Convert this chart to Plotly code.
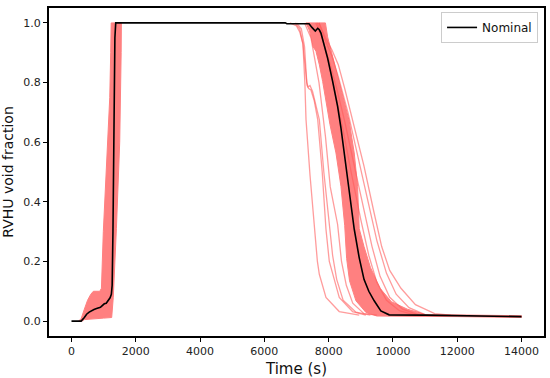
import plotly.graph_objects as go

# ---- Nominal run ----
nominal_t = [0, 300, 400, 470, 550, 620, 700, 780, 850, 900, 940, 980, 1020, 1080, 1140, 1200, 1240, 1265,
             1290, 1320, 1350, 1376, 6650, 6700, 7390, 7480, 7585, 7660, 7710, 7761, 7865, 7968, 8124, 8279,
             8380, 8485, 8641, 8796, 8950, 9100, 9250, 9417, 9624, 9883, 11000, 12500, 14000]
nominal_y = [0, 0, 0.012, 0.023, 0.03, 0.035, 0.039, 0.042, 0.044, 0.046, 0.05, 0.056, 0.058, 0.06, 0.068, 0.078,
             0.09, 0.12, 0.3, 0.7, 0.95, 1.0, 1.0, 0.997, 0.997, 0.985, 0.973, 0.982, 0.977, 0.966, 0.926, 0.882,
             0.804, 0.72, 0.65, 0.564, 0.452, 0.308, 0.213, 0.14, 0.1, 0.068, 0.034, 0.021, 0.02, 0.018, 0.015]

# ---- Ensemble envelope: rise phase (closed outline) ----
rise_band_t = [220, 300, 400, 500, 600, 680, 880, 931, 990, 1060, 1130, 1190, 1220, 1235,
               1552, 1545, 1500, 1440, 1397, 1300, 1250, 1000, 600, 400, 330, 220]
rise_band_y = [0, 0.008, 0.04, 0.07, 0.09, 0.1, 0.1, 0.11, 0.3, 0.45, 0.6, 0.75, 0.9, 1.0,
               1.0, 0.9, 0.6, 0.4, 0.31, 0.08, 0.012, 0.01, 0.008, 0.005, 0, 0]

# ---- Ensemble envelope: drain phase (closed outline) ----
drain_band_t = [7296, 7400, 7451, 7482, 7520, 7606, 7710, 7813, 7917, 8040, 8227, 8383, 8500, 8560, 8650,
                8850, 9160, 9500, 12000, 14000,
                14000, 12000, 11000, 10450, 9950, 9600, 9300, 9100, 8951, 8900, 8796, 8640, 8330, 8124,
                7968, 7900, 7296]
drain_band_y = [1.0, 0.975, 0.953, 0.935, 0.92, 0.905, 0.86, 0.804, 0.737, 0.66, 0.564, 0.452, 0.32, 0.21,
                0.135, 0.068, 0.029, 0.017, 0.015, 0.012,
                0.018, 0.02, 0.022, 0.04, 0.065, 0.11, 0.18, 0.25, 0.31, 0.452, 0.564, 0.67, 0.804, 0.893,
                0.953, 1.0, 1.0]

# ---- Individual runs draining early ----
early_1_t = [6800, 7000, 7100, 7200, 7260, 7296, 7420, 7553, 7650, 7710, 7917, 8330, 8951]
early_1_y = [1.0, 0.99, 0.97, 0.93, 0.8, 0.676, 0.49, 0.308, 0.2, 0.157, 0.079, 0.032, 0.02]
early_2_t = [6950, 7100, 7200, 7280, 7330, 7380, 7450, 7550, 7660, 7800, 7917, 8020, 8124, 8330, 8744, 9158]
early_2_y = [1.0, 0.98, 0.93, 0.85, 0.79, 0.78, 0.775, 0.74, 0.676, 0.5, 0.308, 0.2, 0.157, 0.079, 0.032, 0.02]
early_3_t = [7000, 7150, 7250, 7320, 7360, 7420, 7500, 7600, 7710, 7850, 8000, 8124, 8250, 8450, 8850, 9300]
early_3_y = [1.0, 0.98, 0.92, 0.8, 0.785, 0.79, 0.77, 0.72, 0.676, 0.5, 0.35, 0.22, 0.14, 0.07, 0.03, 0.02]
early_4_t = [7250, 7450, 7700, 7900, 8050, 8279, 8400, 8550, 8750, 9100, 9500]
early_4_y = [1.0, 0.95, 0.8, 0.62, 0.45, 0.324, 0.2, 0.12, 0.06, 0.025, 0.02]

# ---- Individual runs draining late ----
late_1_t = [7700, 7900, 8100, 8300, 8500, 8800, 9100, 9400, 9650, 9900, 10250, 10700, 11300, 11800]
late_1_y = [1.0, 0.95, 0.91, 0.86, 0.78, 0.65, 0.52, 0.37, 0.25, 0.17, 0.11, 0.055, 0.025, 0.02]
late_2_t = [7700, 7900, 8100, 8300, 8600, 8900, 9200, 9500, 9800, 10100, 10500, 11000]
late_2_y = [1.0, 0.94, 0.89, 0.82, 0.7, 0.56, 0.41, 0.27, 0.16, 0.09, 0.045, 0.022]
late_3_t = [7650, 7850, 8050, 8250, 8500, 8800, 9100, 9350, 9600, 9900, 10300, 10800]
late_3_y = [1.0, 0.93, 0.86, 0.78, 0.67, 0.52, 0.37, 0.25, 0.15, 0.08, 0.04, 0.021]
late_4_t = [7600, 7800, 8000, 8200, 8450, 8700, 9000, 9250, 9500, 9800, 10200, 10700]
late_4_y = [1.0, 0.95, 0.87, 0.77, 0.64, 0.5, 0.34, 0.22, 0.13, 0.07, 0.035, 0.02]

x_ticks = [0, 2000, 4000, 6000, 8000, 10000, 12000, 14000]
y_ticks = [0.0, 0.2, 0.4, 0.6, 0.8, 1.0]

band_color = "rgb(255,128,128)"
line_color = "rgba(255,90,90,0.6)"

fig = go.Figure()
for bt, by in [(rise_band_t, rise_band_y), (drain_band_t, drain_band_y)]:
    fig.add_trace(go.Scatter(x=bt, y=by, mode="lines", fill="toself", fillcolor=band_color,
                             line=dict(color=band_color, width=1), showlegend=False, hoverinfo="skip"))

runs = [(early_1_t, early_1_y), (early_2_t, early_2_y), (early_3_t, early_3_y), (early_4_t, early_4_y),
        (late_1_t, late_1_y), (late_2_t, late_2_y), (late_3_t, late_3_y), (late_4_t, late_4_y)]
for rt, ry in runs:
    fig.add_trace(go.Scatter(x=rt, y=ry, mode="lines", line=dict(color=line_color, width=1.3),
                             showlegend=False))

fig.add_trace(go.Scatter(x=nominal_t, y=nominal_y, mode="lines", name="Nominal",
                         line=dict(color="black", width=1.6)))

axis_common = dict(showline=True, linecolor="black", linewidth=2, mirror=True, ticks="outside",
                   ticklen=4, tickwidth=1, tickcolor="black", showgrid=False, zeroline=False,
                   automargin=False,
                   tickfont=dict(family="DejaVu Sans", size=11, color="#222"))

fig.update_layout(
    width=550, height=378,
    margin=dict(l=49, r=6, t=8, b=42),
    paper_bgcolor="white", plot_bgcolor="white",
    font=dict(family="DejaVu Sans", color="#111"),
    xaxis=dict(range=[-700, 14700], tickvals=x_ticks, ticktext=[str(v) for v in x_ticks],
               title=dict(text="Time (s)", font=dict(size=15)), **axis_common),
    yaxis=dict(range=[-0.05, 1.05], tickvals=y_ticks, ticktext=[f"{v:.1f}" for v in y_ticks],
               title=dict(text="RVHU void fraction", font=dict(size=14)), **axis_common),
    legend=dict(x=0.988, y=0.988, xanchor="right", yanchor="top", bgcolor="white",
                bordercolor="#cccccc", borderwidth=1, font=dict(size=12)),
)

fig.write_html("out.html", config={"displayModeBar": False},
               post_script="document.body.style.margin='0';document.body.style.overflow='hidden';")
